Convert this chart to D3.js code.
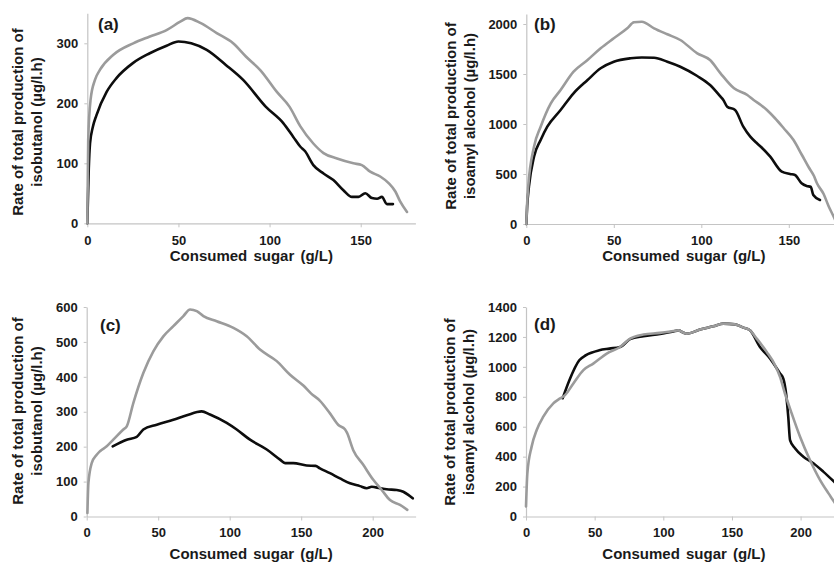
<!DOCTYPE html>
<html>
<head>
<meta charset="utf-8">
<script src="https://cdn.jsdelivr.net/npm/d3@7/dist/d3.min.js"></script>
<style>
  body { margin: 0; background: #fff; }
  svg text { font-family: "Liberation Sans", Arial, sans-serif; font-weight: bold; fill: #1a1a1a; }
</style>
</head>
<body>
<svg id="chart" width="834" height="563"></svg>
<script>
// panel (a): isobutanol
var aSugarBlack = [0, 0.8, 1.5, 3, 5, 10.6, 16, 25, 34, 43.5, 50, 57, 65.5, 76, 85.5, 98, 107.5, 113, 116.8, 119.5, 124, 129.6, 135, 140.5, 145.2, 148.8, 152.5, 156.2, 159, 161.6, 164.4, 167.7];
var aRateBlack  = [0, 90, 133, 160, 180, 219, 242, 267, 283, 296, 303, 300, 289, 264, 239, 194, 167, 144, 128, 120, 97, 83, 72, 55, 44, 44, 50, 42, 41, 44, 32, 32];
var aSugarGrey  = [0, 0.5, 1.8, 4.2, 7, 14.3, 25.2, 34, 43.5, 51, 55, 62, 71, 80, 87, 95, 104, 111, 116.8, 124, 129.6, 137, 146, 150.6, 155.2, 160.7, 165.3, 169, 171.7, 175.4];
var aRateGrey   = [0, 139, 206, 239, 256, 281, 300, 311, 322, 336, 342, 334, 317, 300, 278, 255, 219, 194, 162, 133, 117, 108, 100, 97, 86, 78, 67, 53, 36, 19];

// panel (b): isoamyl alcohol
var bSugarBlack = [0, 0.5, 1.5, 4.4, 8.2, 12, 19.6, 27, 35, 42.5, 50, 59.6, 66, 73, 80.6, 88, 97.7, 105, 111, 112.6, 114.8, 119.3, 124, 128, 131.8, 134, 139.4, 146, 150.7, 153.5, 157.3, 160.2, 162.5, 164, 167.8];
var bRateBlack  = [0, 180, 373, 673, 840, 973, 1140, 1307, 1440, 1557, 1623, 1657, 1665, 1663, 1623, 1573, 1480, 1390, 1273, 1240, 1173, 1140, 973, 873, 807, 773, 673, 523, 500, 490, 407, 380, 373, 290, 240];
var bSugarGrey  = [0, 0.4, 1.1, 4.4, 8.2, 14, 19.6, 27, 35, 42.5, 50, 57.7, 61.5, 66, 73, 80.6, 88, 97.7, 105, 111, 118.7, 126.3, 129.9, 134, 137.5, 142, 147, 152.7, 157.5, 161.3, 164.4, 166.1, 169.9, 172.7, 176, 177];
var bRateGrey   = [0, 180, 373, 773, 973, 1207, 1340, 1523, 1640, 1757, 1857, 1957, 2017, 2023, 1957, 1897, 1840, 1707, 1640, 1507, 1357, 1290, 1240, 1190, 1140, 1060, 960, 840, 690, 570, 480, 407, 300, 180, 60, 20];

// panel (c): isobutanol
var cSugarBlack = [18.2, 28, 35, 39.6, 49, 60.6, 70, 80.4, 86.2, 97.9, 104.9, 114.2, 125.9, 135.2, 138.7, 144.5, 153.8, 160, 163.1, 170.1, 177.1, 184.1, 191.1, 195.8, 199.3, 205.1, 209.8, 216.8, 221.4, 224.9, 228];
var cRateBlack  = [201, 220, 228, 249, 263, 277, 290, 301, 292, 268, 249, 220, 192, 163, 153, 153, 146, 145, 138, 124, 109, 95, 87, 81, 85, 81, 78, 76, 71, 62, 52];
var cSugarGrey  = [0.5, 1.2, 3.5, 7, 9.3, 14, 18.6, 25.6, 28, 32.6, 39.6, 46.6, 53.6, 60.6, 67.6, 72.3, 77, 81.6, 90.9, 102.6, 111.9, 121.2, 132.9, 142.2, 151.5, 157, 163, 170, 176, 180.6, 182, 186.4, 193.4, 200.4, 206.3, 212.1, 219.1, 224.2];
var cRateGrey   = [10, 96, 153, 177, 187, 201, 220, 249, 258, 325, 411, 473, 516, 545, 574, 593, 588, 574, 559, 540, 516, 478, 445, 406, 375, 352, 332, 296, 262, 250, 240, 190, 148, 105, 76, 47, 33, 19];

// panel (d): isoamyl alcohol
var dSugarBlack = [26.7, 31.6, 38.8, 43.7, 53.4, 60.7, 68.5, 75.8, 85.5, 97.6, 107.3, 111, 114.6, 117, 126.7, 136.4, 143.7, 152.2, 158.3, 163.1, 170.4, 177.7, 185, 187.4, 189.4, 191, 192.3, 195.9, 202, 209.3, 216.5, 224.3, 228];
var dRateBlack  = [790, 911, 1044, 1078, 1111, 1122, 1133, 1185, 1205, 1220, 1236, 1244, 1229, 1222, 1249, 1271, 1289, 1284, 1262, 1244, 1133, 1056, 956, 922, 822, 667, 511, 456, 400, 356, 300, 233, 200];
var dSugarGrey  = [0, 1, 4.1, 7.8, 12.6, 19.9, 24.8, 28.4, 34.5, 41.8, 49, 58.8, 68.5, 75.8, 85.5, 97.6, 107.3, 111, 114.6, 117, 126.7, 136.4, 143.7, 152.2, 158.3, 163.1, 168, 175.3, 181.4, 185, 188.6, 193.5, 199.6, 206.8, 214.1, 220.2, 224.3, 227];
var dRateGrey   = [67, 289, 467, 578, 667, 756, 789, 811, 889, 978, 1022, 1089, 1133, 1189, 1216, 1227, 1240, 1244, 1229, 1222, 1249, 1271, 1289, 1284, 1262, 1244, 1189, 1100, 1011, 933, 822, 689, 533, 378, 245, 156, 100, 60];

// ticks and texts
var sugarTicksTop    = [0, 50, 100, 150];
var sugarTicksBottom = [0, 50, 100, 150, 200];
var aRateTicks = [0, 100, 200, 300];
var bRateTicks = [0, 500, 1000, 1500, 2000];
var cRateTicks = [0, 100, 200, 300, 400, 500, 600];
var dRateTicks = [0, 200, 400, 600, 800, 1000, 1200, 1400];
var panelLetters = ['(a)', '(b)', '(c)', '(d)'];
var yTitleFirst  = 'Rate of total production of';
var yTitleSecond = ['isobutanol (\u00b5g/l.h)', 'isoamyl alcohol (\u00b5g/l.h)', 'isobutanol (\u00b5g/l.h)', 'isoamyl alcohol (\u00b5g/l.h)'];
var xTitle = 'Consumed sugar (g/L)';

var BLACK = '#0d0d0d',
    GREY = '#9b9b9b',
    AXIS = '#c4c4c4';

// layout of the four panels (pixel frames, not data)
var panels = [
    { x0: 87.3, x1: 415.4, xMax: 180, y0: 223.3, y1: 13.3, yMax: 350, xTicks: sugarTicksTop, yTicks: aRateTicks,
      black: [aSugarBlack, aRateBlack], grey: [aSugarGrey, aRateGrey],
      tickBase: 245, titleBase: 260.5, yTitleX: [23, 42], yTitleMid: 122, letter: [98, 30] },
    { x0: 526.3, x1: 841.3, xMax: 180, y0: 224, y1: 14, yMax: 2100, xTicks: sugarTicksTop, yTicks: bRateTicks,
      black: [bSugarBlack, bRateBlack], grey: [bSugarGrey, bRateGrey],
      tickBase: 245, titleBase: 260.5, yTitleX: [456, 475], yTitleMid: 116, letter: [534, 30] },
    { x0: 86.7, x1: 415.6, xMax: 230, y0: 516.5, y1: 307, yMax: 600, xTicks: sugarTicksBottom, yTicks: cRateTicks,
      black: [cSugarBlack, cRateBlack], grey: [cSugarGrey, cRateGrey],
      tickBase: 537, titleBase: 558.5, yTitleX: [23, 42], yTitleMid: 411, letter: [100, 331] },
    { x0: 526, x1: 841.8, xMax: 230, y0: 516.5, y1: 307, yMax: 1400, xTicks: sugarTicksBottom, yTicks: dRateTicks,
      black: [dSugarBlack, dRateBlack], grey: [dSugarGrey, dRateGrey],
      tickBase: 537, titleBase: 558.5, yTitleX: [455, 474], yTitleMid: 412, letter: [534, 330] }
];

var svg = d3.select('#chart');

panels.forEach(function(p, i) {
    var x = d3.scaleLinear().domain([0, p.xMax]).range([p.x0, p.x1]),
        y = d3.scaleLinear().domain([0, p.yMax]).range([p.y0, p.y1]),
        g = svg.append('g').attr('class', 'panel');

    // x axis
    var xAxis = g.append('g')
        .attr('transform', 'translate(0,' + p.y0 + ')')
        .call(d3.axisBottom(x).tickValues(p.xTicks).tickFormat(d3.format('d'))
            .tickSize(4).tickSizeOuter(0).tickPadding(p.tickBase - p.y0 - 4 - 9.2));
    // y axis
    var yAxis = g.append('g')
        .attr('transform', 'translate(' + p.x0 + ',0)')
        .call(d3.axisLeft(y).tickValues(p.yTicks).tickFormat(d3.format('d'))
            .tickSize(3).tickSizeOuter(0).tickPadding(6));

    [xAxis, yAxis].forEach(function(ax) {
        ax.select('.domain').attr('stroke', AXIS).attr('stroke-width', 1.2);
        ax.selectAll('.tick line').attr('stroke', AXIS);
        ax.selectAll('.tick text').style('font-size', '13px').attr('fill', '#1a1a1a');
    });

    // curves, grey on top of black
    var line = d3.line()
        .x(function(d) { return x(d[0]); })
        .y(function(d) { return y(d[1]); })
        .curve(d3.curveMonotoneX);

    [[p.black, BLACK], [p.grey, GREY]].forEach(function(s) {
        g.append('path')
            .datum(d3.zip(s[0][0], s[0][1]))
            .attr('fill', 'none')
            .attr('stroke', s[1])
            .attr('stroke-width', 2.6)
            .attr('stroke-linejoin', 'round')
            .attr('stroke-linecap', 'round')
            .attr('d', line);
    });

    // titles
    g.append('text')
        .attr('x', (p.x0 + p.x1) / 2)
        .attr('y', p.titleBase)
        .attr('text-anchor', 'middle')
        .style('font-size', '15px')
        .style('word-spacing', '2px')
        .text(xTitle);

    [yTitleFirst, yTitleSecond[i]].forEach(function(t, k) {
        g.append('text')
            .attr('transform', 'translate(' + p.yTitleX[k] + ',' + p.yTitleMid + ') rotate(-90)')
            .attr('text-anchor', 'middle')
            .style('font-size', '15px')
            .text(t);
    });

    g.append('text')
        .attr('x', p.letter[0])
        .attr('y', p.letter[1])
        .style('font-size', '17px')
        .text(panelLetters[i]);
});
</script>
</body>
</html>
